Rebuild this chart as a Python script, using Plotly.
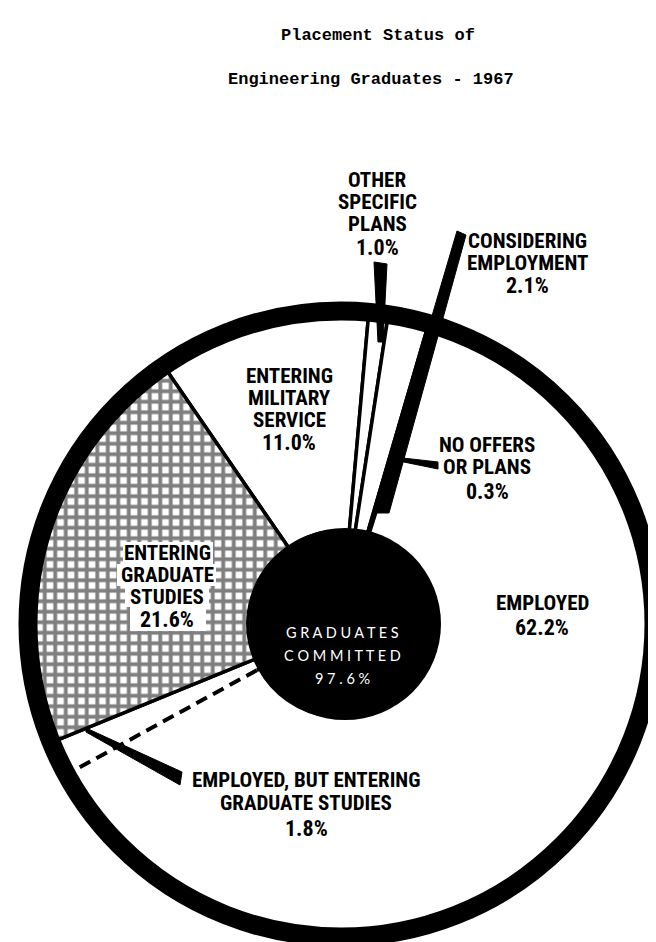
import math
import plotly.graph_objects as go

# ---------------- data ----------------
slice_labels = ["Entering Military Service", "Other Specific Plans", "Considering Employment",
                "No Offers or Plans", "Employed", "Employed, but Entering Graduate Studies",
                "Entering Graduate Studies"]
slice_values = [11.0, 1.0, 2.1, 0.3, 62.2, 1.8, 21.6]
slice_fills = ["white", "white", "white", "black", "white", "white", "white"]
slice_patterns = ["", "", "", "", "", "", "+"]
label_lines = {
    "Other Specific Plans": ["OTHER", "SPECIFIC", "PLANS", "1.0%"],
    "Considering Employment": ["CONSIDERING", "EMPLOYMENT", "2.1%"],
    "Entering Military Service": ["ENTERING", "MILITARY", "SERVICE", "11.0%"],
    "Entering Graduate Studies": ["ENTERING", "GRADUATE", "STUDIES", "21.6%"],
    "No Offers or Plans": ["NO OFFERS", "OR PLANS", "0.3%"],
    "Employed": ["EMPLOYED", "62.2%"],
    "Employed, but Entering Graduate Studies": ["EMPLOYED, BUT ENTERING", "GRADUATE STUDIES", "1.8%"],
}
center_lines = ["G R A D U A T E S", "C O M M I T T E D", "9 7 . 6 %"]
title_lines = ["Placement Status of", "Engineering Graduates - 1967"]

# ---------------- layout geometry ----------------
W, H = 656, 942
CX, CY, R = 333, 616, 310
START = -34.5


def px(x):
    return x / W


def py(y):
    return 1 - y / H


def path(points):
    return "M " + " L ".join(f"{px(x):.5f},{py(y):.5f}" for x, y in points) + " Z"


fig = go.Figure(go.Pie(
    values=slice_values, labels=slice_labels, sort=False, direction="clockwise",
    rotation=START, hole=0.3, textinfo="none", showlegend=False,
    marker=dict(colors=slice_fills, line=dict(color="black", width=3.5),
                pattern=dict(shape=slice_patterns, fgcolor="black", bgcolor="white",
                             size=10.5, solidity=0.6, fillmode="overlay")),
    domain=dict(x=[px(CX - R), px(CX + R)], y=[py(CY + R), py(CY - R)]),
))

shapes = []
# white area behind the graduate-studies label
shapes.append(dict(type="path", xref="paper", yref="paper", layer="above",
                   fillcolor="white", line=dict(width=0),
                   path=path([(115, 534), (205, 534), (205, 556), (208, 556), (208, 578),
                              (201, 578), (201, 599), (198, 599), (198, 623), (122, 623),
                              (122, 599), (117, 599), (117, 578), (109, 578), (109, 556),
                              (115, 556)])))
# dashed boundary between Employed and Employed-but-grad, angle from data
cum = sum(slice_values[:5])
ang = math.radians(START + cum / sum(slice_values) * 360)
r0, r1 = 96, 306
p0 = (CX + r0 * math.sin(ang), CY - r0 * math.cos(ang))
p1 = (CX + r1 * math.sin(ang), CY - r1 * math.cos(ang))
shapes.append(dict(type="line", xref="paper", yref="paper", x0=px(p0[0]), y0=py(p0[1]),
                   x1=px(p1[0]), y1=py(p1[1]), line=dict(color="white", width=7), layer="above"))
shapes.append(dict(type="line", xref="paper", yref="paper", x0=px(p0[0]), y0=py(p0[1]),
                   x1=px(p1[0]), y1=py(p1[1]), line=dict(color="black", width=4, dash="12px,7px"),
                   layer="above"))
# outer ring
RR = 313
shapes.append(dict(type="circle", xref="paper", yref="paper", x0=px(CX - RR), x1=px(CX + RR),
                   y0=py(CY + RR), y1=py(CY - RR), line=dict(color="black", width=19),
                   fillcolor="rgba(0,0,0,0)", layer="above"))
# pointers
pointers = [
    [(366, 254), (379, 256), (375, 334), (370, 334)],
    [(449, 223), (458, 227), (381, 505), (366, 505)],
    [(386, 449), (430, 454), (430, 461), (386, 452)],
    [(78, 720), (174, 764), (172, 777), (78, 724)],
]
for pts in pointers:
    shapes.append(dict(type="path", xref="paper", yref="paper", path=path(pts),
                       fillcolor="black", line=dict(color="black", width=1), layer="above"))
# black hub
HX, HY, HR = 337, 616, 96
shapes.append(dict(type="circle", xref="paper", yref="paper", x0=px(HX - HR), x1=px(HX + HR),
                   y0=py(HY + HR), y1=py(HY - HR), fillcolor="black",
                   line=dict(color="black", width=0), layer="above"))

annotations = []
LBL = "Roboto Condensed, Roboto, sans-serif"
label_pos = {
    "Other Specific Plans": (369, [172, 194, 216, 239]),
    "Considering Employment": (519, [232.5, 254.5, 277.5]),
    "Entering Military Service": (281, [368, 390, 412, 434.5]),
    "Entering Graduate Studies": (159, [545, 567, 589, 611.5]),
    "No Offers or Plans": (479, [436.5, 458.5, 483.5]),
    "Employed": (534, [595, 619]),
    "Employed, but Entering Graduate Studies": (298, [771.5, 795, 820.5]),
}
for name, lines in label_lines.items():
    x, ys = label_pos[name]
    for t, y in zip(lines, ys):
        is_pct = t.endswith("%")
        annotations.append(dict(
            text=t, x=px(x), y=py(y), xref="paper", yref="paper", showarrow=False,
            xanchor="center", yanchor="middle",
            font=dict(family=LBL, size=22 if is_pct else 21, color="black", weight="bold"),
        ))
for t, y in zip(center_lines, [624, 647.5, 670]):
    annotations.append(dict(text=t, x=px(335), y=py(y), xref="paper", yref="paper",
                            showarrow=False, xanchor="center", yanchor="middle",
                            font=dict(family="Lato, DejaVu Sans", size=14.5, color="white")))
for t, (x, y) in zip(title_lines, [(370, 28), (363, 72)]):
    annotations.append(dict(text=t, x=px(x), y=py(y), xref="paper", yref="paper",
                            showarrow=False, xanchor="center", yanchor="middle",
                            font=dict(family="Liberation Mono, DejaVu Sans Mono", size=17,
                                      color="black", weight="bold")))

fig.update_layout(width=W, height=H, margin=dict(l=0, r=0, t=0, b=0),
                  paper_bgcolor="white", plot_bgcolor="white",
                  shapes=shapes, annotations=annotations)
fig.write_html("out.html")
